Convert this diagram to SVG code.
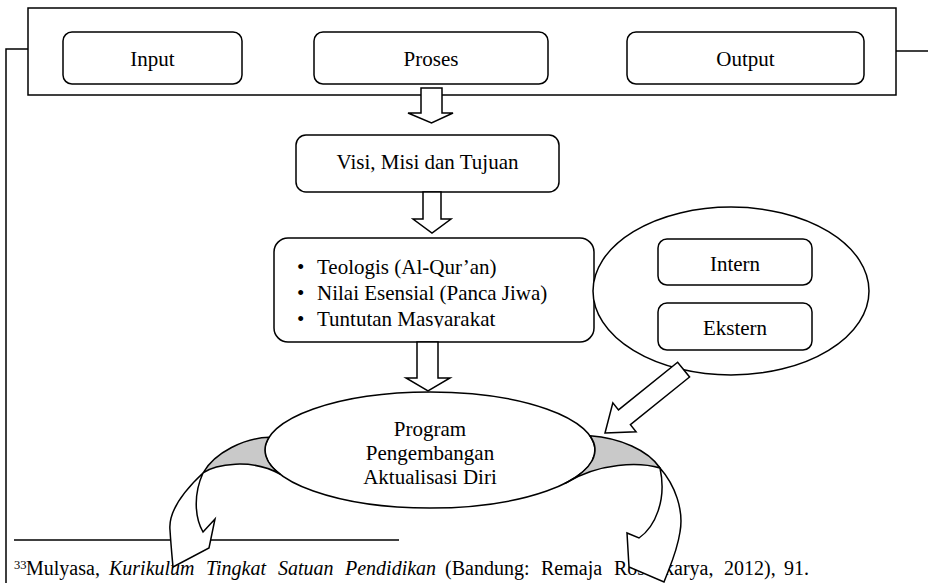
<svg xmlns="http://www.w3.org/2000/svg" width="928" height="583" viewBox="0 0 928 583">
<defs>
<style>
.box{fill:#fff;stroke:#000;stroke-width:1.5}
.ln{fill:none;stroke:#000;stroke-width:1.5}
.blk{fill:#fff;stroke:#000;stroke-width:1.5;stroke-linejoin:miter}
.gray{fill:#c9c9c9;stroke:#000;stroke-width:1.5;stroke-linejoin:round}
.t{font-family:'Liberation Serif','Times New Roman',serif;font-size:21px;fill:#000}
.c{text-anchor:middle}
.fn{font-family:'Liberation Serif','Times New Roman',serif;font-size:20px;fill:#000}
.sup{font-family:'Liberation Serif','Times New Roman',serif;font-size:12.5px;fill:#000}
.it{font-style:italic}
</style>
<clipPath id="clip3"><rect x="280" y="300" width="300" height="27.5"/></clipPath>
</defs>
<rect width="928" height="583" fill="#fff"/>

<g id="footnote">
<line x1="14" y1="540" x2="399" y2="540" stroke="#000" stroke-width="1.3"/>
<text class="sup" x="14" y="569">33</text>
<text class="fn" y="575"><tspan x="26">Mulyasa,</tspan><tspan x="109" class="it">Kurikulum</tspan><tspan x="206" class="it">Tingkat</tspan><tspan x="278" class="it">Satuan</tspan><tspan x="345" class="it">Pendidikan</tspan><tspan x="445">(Bandung:</tspan><tspan x="541">Remaja</tspan><tspan x="614">Rosdakarya,</tspan><tspan x="724">2012),</tspan><tspan x="784">91.</tspan></text>
</g>

<g id="ipo">
<rect class="box" x="28" y="8" width="868" height="87"/>
</g>
<g id="input">
<rect class="box" x="63" y="32" width="179" height="52" rx="9"/>
<text class="t c" x="152.5" y="66">Input</text>
</g>
<g id="proses">
<rect class="box" x="314" y="32" width="234" height="52" rx="9"/>
<text class="t c" x="431" y="66">Proses</text>
</g>
<g id="output">
<rect class="box" x="627" y="32" width="237" height="52" rx="9"/>
<text class="t c" x="745.5" y="66">Output</text>
</g>
<g id="visi">
<rect class="box" x="296" y="135" width="263" height="57" rx="10"/>
<text class="t c" x="427.5" y="168.5">Visi, Misi dan Tujuan</text>
</g>
<g id="landasan">
<rect class="box" x="274" y="238" width="320" height="104" rx="14"/>
<text class="t" x="297" y="274">•</text>
<text class="t" x="317" y="274">Teologis (Al-Qur’an)</text>
<text class="t" x="297" y="300">•</text>
<text class="t" x="317" y="300">Nilai Esensial (Panca Jiwa)</text>
<g clip-path="url(#clip3)">
<text class="t" x="297" y="326">•</text>
<text class="t" x="317" y="326">Tuntutan Masyarakat</text>
</g>
</g>
<g id="faktor">
<ellipse class="box" cx="731" cy="291" rx="138" ry="84"/>
</g>
<g id="intern">
<rect class="box" x="658" y="239" width="154" height="46" rx="9"/>
<text class="t c" x="735" y="271">Intern</text>
</g>
<g id="ekstern">
<rect class="box" x="658" y="303" width="154" height="47" rx="9"/>
<text class="t c" x="735" y="335">Ekstern</text>
</g>
<g id="program">
<ellipse class="box" cx="430" cy="450" rx="165" ry="58"/>
<text class="t c" x="430" y="436">Program</text>
<text class="t c" x="430" y="460">Pengembangan</text>
<text class="t c" x="430" y="484">Aktualisasi Diri</text>
</g>

<g id="connectors">
<path class="ln" d="M28,49 H6 V583"/>
<path class="ln" d="M896,51 H928"/>
<path class="blk" d="M421,88 H442 V113 H453 L431.5,123 L408,113 H421 Z"/>
<path class="blk" d="M423,192 H441 V219 H451 L432,233 L413,219 H423 Z"/>
<path class="blk" d="M417,342 H438 V378 H450 L428,391 L406,378 H417 Z"/>
<polygon class="blk" transform="translate(605,433) rotate(141.1)" points="0,0 -25,-18.5 -25,-9.5 -101,-9.5 -101,9.5 -25,9.5 -25,18.5"/>
<path class="gray" d="M269,437.3 C245,438 215,452 203,473 C215,464 252,458 280,474.2 A165,58 0 0 1 269,437.3 Z"/>
<path class="blk" d="M203,473 C186,489 168,510 170,530 C171,546 172,556 173,567 L209,548 L215,519 L203,532 C195,518 193,495 203,473 Z"/>
<path class="gray" d="M590,435.8 C620,438 648,450 660,468 C640,462 600,462 565,483.3 A165,58 0 0 0 590,435.8 Z"/>
<path class="blk" d="M660,468 C675,485 684,510 680,532 C677,552 670,566 664,582 L629,567 L627,533 L639,538 C655,527 667,500 660,468 Z"/>
</g>
</svg>
